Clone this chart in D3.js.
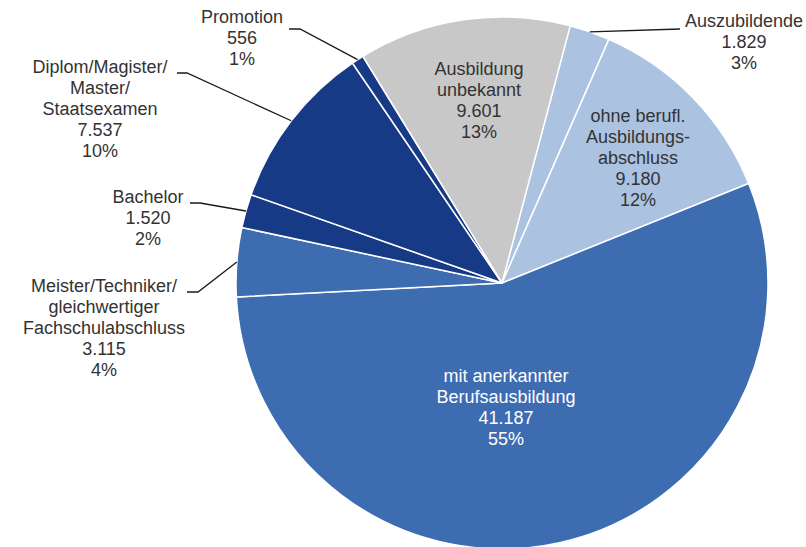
<!DOCTYPE html>
<html>
<head>
<meta charset="utf-8">
<script src="https://cdn.jsdelivr.net/npm/d3@7"></script>
<style>
  html, body { margin: 0; padding: 0; background: #fff; }
  svg { display: block; }
  text { font-family: "Liberation Sans", Arial, sans-serif; font-size: 18px; }
</style>
</head>
<body>
<svg id="chart" width="806" height="547"></svg>
<script>
// ---- Data ----
const categories = [
  ["Auszubildende"],
  ["ohne berufl.", "Ausbildungs-", "abschluss"],
  ["mit anerkannter", "Berufsausbildung"],
  ["Meister/Techniker/", "gleichwertiger", "Fachschulabschluss"],
  ["Bachelor"],
  ["Diplom/Magister/", "Master/", "Staatsexamen"],
  ["Promotion"],
  ["Ausbildung", "unbekannt"]
];
const values = [1829, 9180, 41187, 3115, 1520, 7537, 556, 9601];
const percentLabels = ["3%", "12%", "55%", "4%", "2%", "10%", "1%", "13%"];

// ---- Styling / layout ----
const colors = ["#abc2e1", "#abc2e1", "#3d6cb0", "#3d6cb0", "#173a86", "#173a86", "#173a86", "#c8c8c9"];
const textColors = ["#333", "#333", "#fff", "#333", "#333", "#333", "#333", "#333"];
// label block: center x, first baseline y
const labelLayout = [
  {x: 744, y: 27, leader: [[680, 29]]},
  {x: 638, y: 122},
  {x: 506, y: 382},
  {x: 104, y: 292, leader: [[198, 292], [187, 292]]},
  {x: 148, y: 203, leader: [[200, 203], [190, 203]]},
  {x: 100, y: 73,  leader: [[187, 73], [177, 73]]},
  {x: 242, y: 23,  leader: [[300, 29], [289, 29]]},
  {x: 479, y: 75}
];
const cx = 502, cy = 283, radius = 266;
const startDeg = 14.85;
const lineH = 21;

const fmt = d3.formatLocale({decimal: ",", thousands: ".", grouping: [3], currency: ["", "€"]}).format(",d");

const svg = d3.select("#chart");
const g = svg.append("g").attr("transform", `translate(${cx},${cy})`);

const start = startDeg * Math.PI / 180;
const pie = d3.pie().sort(null).value(d => d)
  .startAngle(start).endAngle(start + 2 * Math.PI);
const arcs = pie(values);
const arc = d3.arc().innerRadius(0).outerRadius(radius);

g.selectAll("path.slice").data(arcs).join("path")
  .attr("class", "slice")
  .attr("d", arc)
  .attr("fill", (d, i) => colors[i])
  .attr("stroke", "#fff")
  .attr("stroke-width", 1.5)
  .attr("stroke-linejoin", "round");

// leader lines
arcs.forEach((d, i) => {
  const L = labelLayout[i];
  if (!L.leader) return;
  const mid = (d.startAngle + d.endAngle) / 2;
  const p0 = [cx + radius * Math.sin(mid), cy - radius * Math.cos(mid)];
  const pts = [p0, ...L.leader];
  svg.append("path")
    .attr("d", d3.line()(pts))
    .attr("fill", "none")
    .attr("stroke", "#1a1a1a")
    .attr("stroke-width", 1.3);
});

// labels
arcs.forEach((d, i) => {
  const L = labelLayout[i];
  const lines = [...categories[i], fmt(values[i]), percentLabels[i]];
  const t = svg.append("text")
    .attr("text-anchor", "middle")
    .attr("fill", textColors[i]);
  lines.forEach((s, k) => {
    t.append("tspan").attr("x", L.x).attr("y", L.y + k * lineH).text(s);
  });
});
</script>
</body>
</html>
